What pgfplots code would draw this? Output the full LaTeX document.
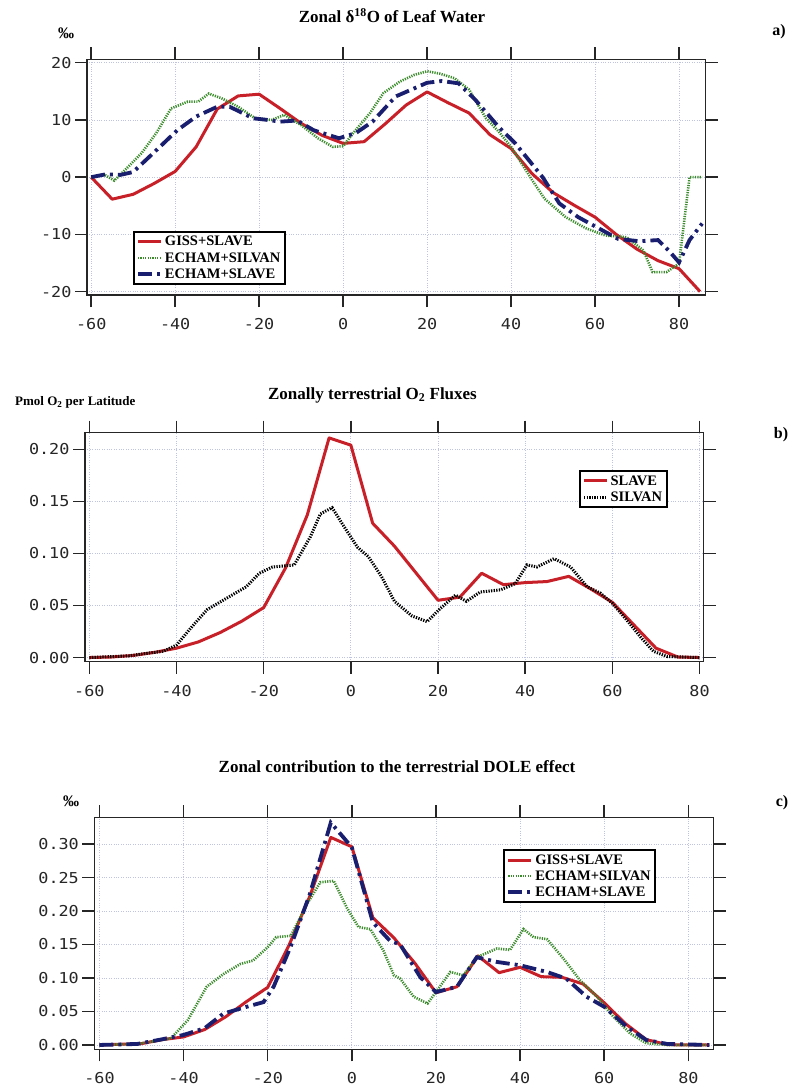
\documentclass[border=0pt]{standalone}
\usepackage{fontspec}
\setmainfont{Liberation Serif}
\newfontfamily\monofont[FakeStretch=1.12]{DejaVu Sans Mono}
\usepackage{pgfplots}
\pgfplotsset{compat=1.18}
\definecolor{cRed}{RGB}{200,32,40}
\definecolor{cGreen}{RGB}{60,140,45}
\definecolor{cBlue}{RGB}{25,30,110}
\definecolor{cGrid}{RGB}{190,195,225}
\pgfplotsset{
  myax/.style={
    scale only axis,
    anchor=north west,
    tick align=outside,
    major tick length=12pt,
    xticklabel pos=lower, yticklabel pos=left,
    xticklabel shift=8pt,
    grid=major,
    major grid style={dotted, line width=0.8pt, color=cGrid},
    axis line style={line width=1.5pt, black!85},
    every tick/.style={black!85, line width=1.5pt},
    tick label style={font=\monofont\fontsize{15}{15}\selectfont, black!85},
    xtick={-60,-40,-20,0,20,40,60,80},
    xticklabels={-60,-40,-20,0,20,40,60,80},
    legend cell align=left,
    legend image code/.code={\draw[##1] (0pt,0pt) -- (23pt,0pt);},
    legend style={draw=black, line width=1.8pt, font=\bfseries\fontsize{14.5}{15}\selectfont,
      inner sep=2.5pt, row sep=1pt, cells={anchor=west}},
  },
  redl/.style={cRed, line width=3pt, line join=round},
  greenl/.style={cGreen, line width=2.6pt, dash pattern=on 1.2pt off 1.2pt},
  bluel/.style={cBlue, line width=3.8pt, dash pattern=on 14pt off 5pt on 3pt off 5pt},
  blackl/.style={black, line width=3pt, dash pattern=on 1.3pt off 1.3pt},
}
\begin{document}
\begin{tikzpicture}
\fill[white] (0,0) rectangle (792pt,-1091pt);
\path[use as bounding box] (0,0) rectangle (792pt,-1091pt);

% ---------------- Panel a ----------------
\node[font=\bfseries\fontsize{17}{17}\selectfont] at (392pt,-16pt) {Zonal δ\textsuperscript{18}O of Leaf Water};
\node[font=\bfseries\fontsize{16}{16}\selectfont] at (66pt,-33pt) {‰};
\node[font=\bfseries\fontsize{16}{16}\selectfont] at (779pt,-32pt) {a)};
\begin{axis}[myax,
  at={(87pt,-59.3pt)}, width=618.5pt, height=235.7pt,
  xmin=-61, xmax=86.3, ymin=-20.6, ymax=20.6,
  ytick={-20,-10,0,10,20}, yticklabels={-20,-10,0,10,20},
  legend style={at={(0.074,0.042)}, anchor=south west},
]
\addplot[redl] table {
-60 0
-55 -3.85
-50 -3.0
-45 -1.1
-40 1.0
-35 5.3
-30 11.9
-25 14.2
-20 14.5
-15 12.0
-10 9.4
-5 7.3
0 5.9
5 6.2
10 9.3
15 12.6
20 14.9
25 13.0
30 11.2
35 7.4
40 5.0
45 0.6
50 -2.7
55 -4.9
60 -7.0
65 -10.0
70 -12.6
75 -14.6
80 -16.0
85 -20.0
};
\addlegendentry{GISS+SLAVE}
\addplot[greenl] table {
-60 0
-57 0.5
-54.5 -0.6
-52 1.2
-48 4.2
-44.5 7.7
-41 12.0
-37 13.2
-34.5 13.2
-32 14.6
-29 13.8
-25 12.3
-21 10.3
-17 10.0
-14 10.9
-10 9.1
-6 6.8
-2.5 5.3
0 5.4
2.4 7.7
6.4 11.2
9.6 14.7
13.5 16.7
17 17.9
20 18.5
23 18.1
26.5 17.3
30 15.3
34 10.3
37 8.0
40 5.3
45 -0.5
48 -3.8
53 -7.0
58 -9.0
62.5 -10.2
67.5 -10.5
71.5 -12.8
73.7 -16.6
77 -16.6
80 -15.1
82.5 0
85.5 0
};
\addlegendentry{ECHAM+SILVAN}
\addplot[bluel] table {
-60 0
-56.5 0.5
-53 0.4
-50 0.9
-44.5 4.7
-39.5 8.2
-35 10.6
-30 12.3
-27 12.3
-21.5 10.3
-18 10.0
-15 9.7
-11 9.9
-7 8.2
-1 6.8
3 7.7
7 9.7
12.5 14.1
20 16.5
23.5 16.8
27.5 16.4
31.5 13.5
37 8.8
41 5.9
47.5 0
51.5 -4.6
56 -7.0
61 -9.0
65.5 -10.8
70.5 -11.2
75 -11.0
77.5 -12.8
80 -14.9
82.5 -11.0
85.5 -8.1
};
\addlegendentry{ECHAM+SLAVE}
\end{axis}

% ---------------- Panel b ----------------
\node[font=\bfseries\fontsize{17}{17}\selectfont] at (372.5pt,-395pt) {Zonally terrestrial O\textsubscript{2} Fluxes};
\node[font=\bfseries\fontsize{13}{13}\selectfont, anchor=west, inner sep=0pt] at (15pt,-402pt) {Pmol O\textsubscript{2} per Latitude};
\node[font=\bfseries\fontsize{16}{16}\selectfont] at (781pt,-435pt) {b)};
\begin{axis}[myax,
  at={(85pt,-432.7pt)}, width=618.5pt, height=229pt,
  xmin=-61, xmax=80.9, ymin=-0.004, ymax=0.216,
  ytick={0,0.05,0.10,0.15,0.20}, yticklabels={0.00,0.05,0.10,0.15,0.20},
  legend style={at={(0.799,0.837)}, anchor=north west},
]
\addplot[redl] table {
-60 0
-55 0.0005
-50 0.002
-45 0.005
-40 0.009
-35 0.015
-30 0.024
-25 0.035
-20 0.048
-15 0.086
-10 0.137
-5 0.211
0 0.204
5 0.129
10 0.107
15 0.081
20 0.055
25 0.058
30 0.081
35 0.070
40 0.072
45 0.073
50 0.078
55 0.066
60 0.053
65 0.031
70 0.009
75 0.0005
80 0
};
\addlegendentry{SLAVE}
\addplot[blackl] table {
-60 0
-51 0.0016
-47 0.004
-43 0.006
-40 0.012
-37 0.027
-33 0.046
-28.5 0.057
-24 0.068
-21 0.081
-18 0.087
-13 0.089
-9.3 0.116
-7 0.138
-4.3 0.144
-1.6 0.126
1.5 0.106
4 0.097
7 0.078
10 0.054
14 0.040
17.5 0.0345
20.5 0.047
24 0.060
26.5 0.054
29.7 0.063
34.3 0.065
37.7 0.071
40.4 0.089
42.7 0.087
46.6 0.095
50.4 0.087
54.2 0.068
57.2 0.062
60 0.052
63.3 0.036
66.4 0.020
69.4 0.006
72.5 0.001
80 0
};
\addlegendentry{SILVAN}
\end{axis}

% ---------------- Panel c ----------------
\node[font=\bfseries\fontsize{17}{17}\selectfont] at (397pt,-767pt) {Zonal contribution to the terrestrial DOLE effect};
\node[font=\bfseries\fontsize{16}{16}\selectfont] at (71pt,-801pt) {‰};
\node[font=\bfseries\fontsize{16}{16}\selectfont] at (782pt,-803pt) {c)};
\begin{axis}[myax,
  at={(94.4pt,-817.3pt)}, width=619.2pt, height=232pt,
  xmin=-61.2, xmax=86, ymin=-0.0065, ymax=0.34,
  ytick={0,0.05,0.10,0.15,0.20,0.25,0.30}, yticklabels={0.00,0.05,0.10,0.15,0.20,0.25,0.30},
  legend style={at={(0.66,0.863)}, anchor=north west},
]
\addplot[redl] table {
-60 0
-55 0.001
-50 0.002
-45 0.008
-40 0.012
-35 0.023
-30 0.042
-25 0.065
-20 0.086
-15 0.148
-10 0.222
-5 0.31
0 0.296
5 0.19
10 0.16
15 0.122
20 0.078
25 0.087
30 0.133
35 0.108
40 0.116
45 0.102
50 0.101
55 0.091
60 0.063
65 0.032
70 0.008
75 0.0005
80 0
85 0
};
\addlegendentry{GISS+SLAVE}
\addplot[greenl] table {
-60 0
-51 0.0015
-43 0.0099
-39 0.037
-34.5 0.087
-30.5 0.106
-26.5 0.121
-23.5 0.126
-20 0.146
-18 0.161
-14.5 0.163
-10.7 0.21
-7.5 0.243
-4.3 0.245
-1.2 0.205
1.6 0.176
4.4 0.173
7.5 0.141
10 0.104
11.5 0.099
14.7 0.072
18 0.062
20 0.079
23.4 0.109
26.5 0.104
29.7 0.131
34.5 0.144
37.6 0.142
40.8 0.173
43.2 0.161
46.4 0.158
50.3 0.129
54.2 0.097
58.3 0.072
62.2 0.042
66.2 0.017
70 0.0025
75 0
85 0
};
\addlegendentry{ECHAM+SILVAN}
\addplot[bluel] table {
-60 0
-51 0.0015
-45.5 0.008
-40 0.015
-35 0.025
-30.5 0.047
-25 0.057
-21 0.064
-18.6 0.087
-14.6 0.146
-10 0.225
-5 0.332
-2 0.31
0 0.295
5 0.183
9 0.156
11.5 0.15
16.3 0.101
20 0.079
25 0.087
29.7 0.131
34.5 0.124
40 0.119
46.4 0.109
51 0.099
55.8 0.072
60 0.057
65.4 0.027
70 0.0074
75 0.0015
85 0
};
\addlegendentry{ECHAM+SLAVE}
\end{axis}
\end{tikzpicture}
\end{document}
